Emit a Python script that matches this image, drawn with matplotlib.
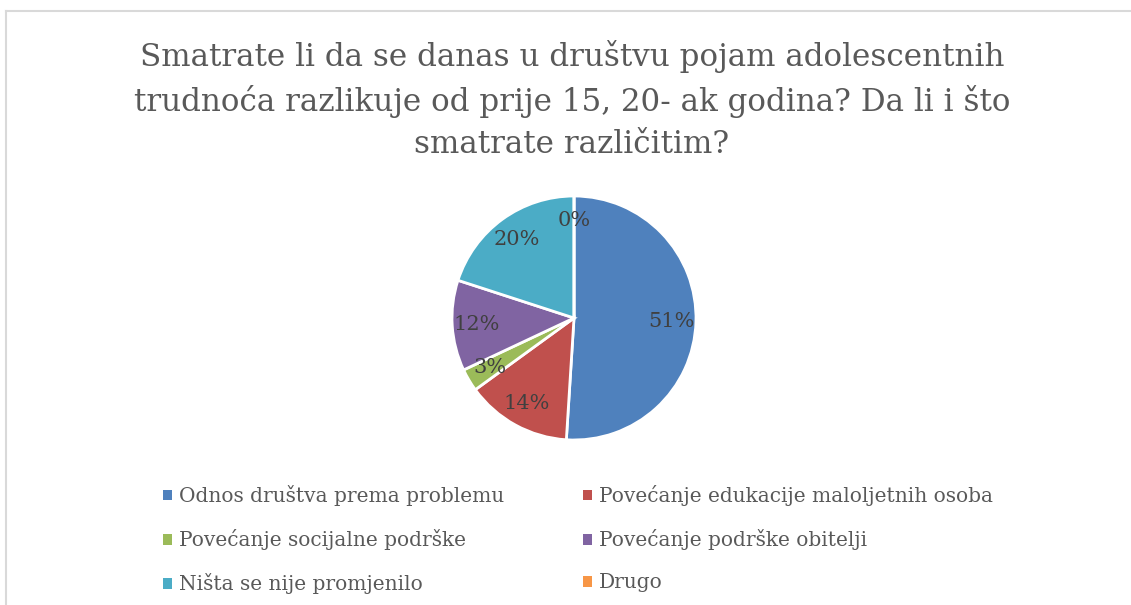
import matplotlib.pyplot as plt
from matplotlib.lines import Line2D
from matplotlib.patches import Patch

# data
categories = [
    "Odnos društva prema problemu",
    "Povećanje edukacije maloljetnih osoba",
    "Povećanje socijalne podrške",
    "Povećanje podrške obitelji",
    "Ništa se nije promjenilo",
    "Drugo",
]
shares = [51, 14, 3, 12, 20, 0]
colors = ["#4F81BD", "#C0504D", "#9BBB59", "#8064A2", "#4BACC6", "#F79646"]

title = ("Smatrate li da se danas u društvu pojam adolescentnih\n"
         "trudnoća razlikuje od prije 15, 20- ak godina? Da li i što\n"
         "smatrate različitim?")

W, H = 1131, 605
plt.rcParams['font.family'] = ['DejaVu Serif']

fig = plt.figure(figsize=(W / 100, H / 100), dpi=100)

# light frame (top and left edges visible in the reference)
fig.add_artist(Line2D([6 / W, 1], [1 - 11 / H, 1 - 11 / H], color="#d9d9d9", lw=1.5))
fig.add_artist(Line2D([6 / W, 6 / W], [0, 1 - 11 / H], color="#d9d9d9", lw=1.5))

fig.text(572 / W, 1 - 100 / H, title, ha="center", va="center",
         fontsize=22.3, color="#595959", linespacing=1.45)

cx, cy, r = 574, 318, 122
ax = fig.add_axes([(cx - r) / W, 1 - (cy + r) / H, 2 * r / W, 2 * r / H])
wedges, texts, autotexts = ax.pie(
    shares, colors=colors, startangle=90, counterclock=False,
    autopct="%.0f%%", pctdistance=0.8,
    wedgeprops=dict(edgecolor="white", linewidth=2),
    textprops=dict(fontsize=15, color="#404040"))
ax.set_xlim(-1, 1)
ax.set_ylim(-1, 1)
ax.set_aspect("equal")
ax.axis("off")

# legend filled row by row like the reference
handles = [Patch(facecolor=c, edgecolor="none") for c in colors]
order = [0, 2, 4, 1, 3, 5]
fig.legend([handles[i] for i in order], [categories[i] for i in order],
           ncol=2, loc="upper left", bbox_to_anchor=(145 / W, 1 - 467 / H),
           frameon=False, fontsize=14.5, labelcolor="#595959",
           handlelength=0.45, handleheight=0.45, handletextpad=0.35,
           columnspacing=3.9, labelspacing=1.15)

fig.savefig("out.png", dpi=100)
